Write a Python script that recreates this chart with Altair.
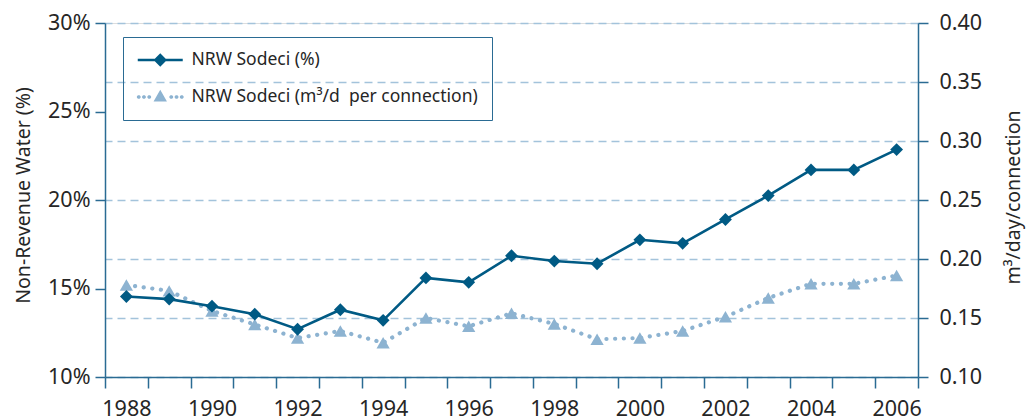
import math
import altair as alt
import pandas as pd

# ---- data ----
years = list(range(1988, 2007))
nrw_pct = [14.55, 14.4, 14.0, 13.55, 12.7, 13.8, 13.2, 15.6, 15.35, 16.85,
           16.55, 16.4, 17.75, 17.55, 18.9, 20.25, 21.7, 21.7, 22.85]
nrw_m3 = [0.178, 0.173, 0.156, 0.1445, 0.133, 0.139, 0.129, 0.150, 0.143, 0.154,
          0.145, 0.132, 0.133, 0.139, 0.151, 0.167, 0.179, 0.179, 0.186]
series_names = ["NRW Sodeci (%)", "NRW Sodeci (m\u00b3/d\u00a0 per connection)"]
left_ticks = [10, 15, 20, 25, 30]
right_ticks = [0.10, 0.15, 0.20, 0.25, 0.30, 0.35, 0.40]

df = pd.DataFrame({"year": years, "pct": nrw_pct, "m3": nrw_m3})
legend_df = pd.DataFrame({"series": series_names})

# ---- styles ----
DARK = "#005a84"
LIGHT = "#8db3d1"
AXIS = "#2a6b93"
GRID = "#a3c3db"
TEXT = "#262626"
FONT = "Noto Sans"

PLOT_W, PLOT_H = 813, 354
x_lo, x_hi = years[0] - 0.5, years[-1] + 0.5
half_band_px = PLOT_W / (x_hi - x_lo) / 2

# ticks on band edges (half years); each label is the year to the right of its tick,
# shifted half a band so it sits under the year's centre
tick_edges = [y - 0.5 for y in years] + [years[-1] + 0.5]
label_expr = (f"(datum.value + 0.5) % 2 == 0 && datum.value < {x_hi}"
              " ? format(datum.value + 0.5, 'd') : ''")

x_enc = alt.X(
    "year:Q",
    scale=alt.Scale(domain=[x_lo, x_hi], nice=False, zero=False),
    axis=alt.Axis(
        values=tick_edges,
        labelExpr=label_expr,
        labelOffset=half_band_px,
        tickSize=11, labelPadding=10, grid=False, title=None,
        labelFontSize=21.5, labelColor=TEXT, labelFont=FONT,
        domainColor=AXIS, tickColor=AXIS, domainWidth=1.5, tickWidth=1.5,
        labelFlush=False, labelOverlap=False,
    ),
)

y_left = alt.Y(
    "pct:Q",
    scale=alt.Scale(domain=[10, 30], nice=False, zero=False),
    axis=alt.Axis(
        orient="left", values=left_ticks, labelExpr="datum.value + '%'",
        tickSize=10, labelPadding=5, grid=False,
        title="Non-Revenue Water (%)", titleX=-82, titleY=172, titleAngle=270,
        titleBaseline="middle", titleAlign="center",
        titleFontSize=19.5, titleFont=FONT, titleFontWeight="normal", titleColor=TEXT,
        labelFontSize=21.5, labelColor=TEXT, labelFont=FONT,
        domainColor=AXIS, tickColor=AXIS, domainWidth=1.5, tickWidth=1.5,
    ),
)

y_right = alt.Y(
    "m3:Q",
    scale=alt.Scale(domain=[0.10, 0.40], nice=False, zero=False),
    axis=alt.Axis(
        orient="right", values=right_ticks, format=".2f",
        tickSize=10, labelPadding=11, grid=True, gridDash=[8, 5],
        gridColor=GRID, gridWidth=1.3,
        title="m\u00b3/day/connection", titleX=95, titleY=174, titleAngle=270,
        titleBaseline="middle", titleAlign="center",
        titleFontSize=19.5, titleFont=FONT, titleFontWeight="normal", titleColor=TEXT,
        labelFontSize=21.5, labelColor=TEXT, labelFont=FONT,
        domainColor=AXIS, tickColor=AXIS, domainWidth=1.5, tickWidth=1.5,
    ),
)

base = alt.Chart(df)

light = alt.layer(
    base.mark_line(color=LIGHT, strokeWidth=4.2, strokeDash=[0.1, 8.6], strokeCap="round")
        .encode(x=x_enc, y=y_right),
    base.mark_point(shape="triangle-up", filled=True, size=175, color=LIGHT, opacity=1)
        .encode(x=x_enc, y=y_right),
)

dark = alt.layer(
    base.mark_line(color=DARK, strokeWidth=2.6).encode(x=x_enc, y=y_left),
    base.mark_point(shape="diamond", filled=True, size=165, color=DARK, opacity=1)
        .encode(x=x_enc, y=y_left),
)

# ---- legend symbols (line + marker) as custom SVG paths ----
LEG_FONT = 17.5
SYM_SIZE = LEG_FONT ** 2          # sqrt(size) equals the label font size
U = math.sqrt(SYM_SIZE) / 2       # px per path unit
SYM_OFFSET = 23 - LEG_FONT / 2


def u(px):
    return px / U


def octagon(cx, cy, r):
    pts = []
    for k in range(8):
        a = math.radians(22.5 + 45 * k)
        pts.append((cx + r * math.cos(a), cy + r * math.sin(a)))
    return "M" + "L".join(f"{px:.3f},{py:.3f}" for px, py in pts) + "Z"


half_len, half_th, dmd = u(22.5), u(1.3), u(6.7)
path_dark = (f"M{-half_len:.3f},{-half_th:.3f}H{half_len:.3f}V{half_th:.3f}H{-half_len:.3f}Z"
             f"M0,{-dmd:.3f}L{dmd:.3f},0L0,{dmd:.3f}L{-dmd:.3f},0Z")
path_light = "".join(octagon(u(c), 0.0, u(2.0)) for c in [-21.5, -16.3, -11.0, 11.0, 16.3, 21.5])
path_light += f"M0,{u(-7.2):.3f}L{u(6.7):.3f},{u(4.4):.3f}L{u(-6.7):.3f},{u(4.4):.3f}Z"

leg = alt.Legend(
    orient="none", legendX=18, legendY=14, title=None,
    strokeColor=AXIS, padding=14, rowPadding=19,
    symbolSize=SYM_SIZE, symbolStrokeWidth=0, symbolOpacity=1,
    symbolOffset=SYM_OFFSET,
    labelFontSize=LEG_FONT, labelFont=FONT, labelColor=TEXT,
    labelOffset=54 - LEG_FONT - SYM_OFFSET, labelLimit=500,
)

legend_layer = alt.Chart(legend_df).mark_point(filled=True).encode(
    color=alt.Color("series:N", scale=alt.Scale(domain=series_names, range=[DARK, LIGHT]),
                    sort=None, legend=leg),
    shape=alt.Shape("series:N", scale=alt.Scale(domain=series_names, range=[path_dark, path_light]),
                    sort=None, legend=leg),
).transform_filter("false")

chart = alt.layer(light, dark, legend_layer).resolve_scale(y="independent").properties(
    width=PLOT_W, height=PLOT_H,
    autosize=alt.AutoSizeParams(type="none"),
    padding={"left": 97, "top": 15, "right": 108, "bottom": 45},
).configure_view(stroke=None).configure_legend(strokeWidth=1.6).configure(background="white")

chart.save("out.html", embed_options={"renderer": "svg", "actions": False})
